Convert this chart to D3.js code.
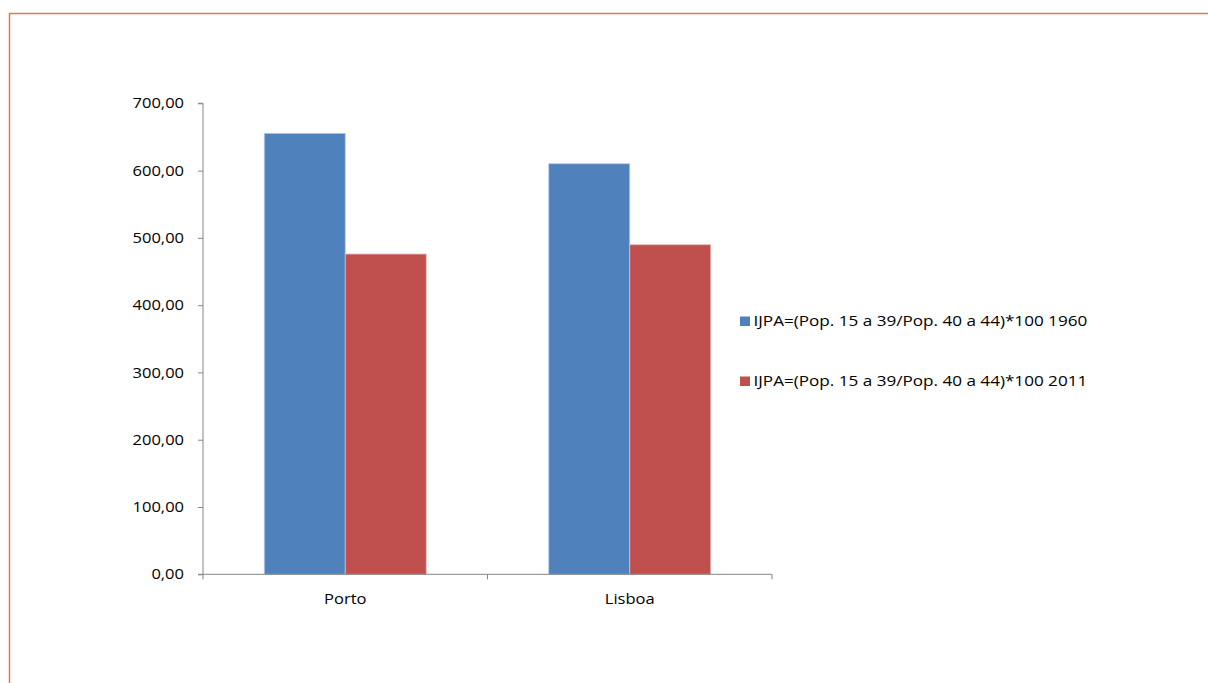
<!DOCTYPE html>
<html><head><meta charset="utf-8">
<script src="https://cdn.jsdelivr.net/npm/d3@7"></script>
<style>body{margin:0;background:#fff;} text{font-family:"Open Sans","Liberation Sans",sans-serif;}</style>
</head><body>
<script>
const categories = ["Porto", "Lisboa"];
const seriesNames = ["IJPA=(Pop. 15 a 39/Pop. 40 a 44)*100 1960", "IJPA=(Pop. 15 a 39/Pop. 40 a 44)*100 2011"];
const values1960 = [655.4, 610.2];
const values2011 = [476.0, 489.8];
const yTicks = [0, 100, 200, 300, 400, 500, 600, 700];
const colors = ["#4F81BD", "#C0504D"];

const W = 1208, H = 683;
const FS = 14.5, SX = 1.14, SXL = 1.18;
const svg = d3.select("body").append("svg").attr("width", W).attr("height", H);
svg.append("rect").attr("x", 9.5).attr("y", 13.5).attr("width", W + 20).attr("height", H + 20)
  .attr("fill", "#fff").attr("stroke", "#E07B4F").attr("stroke-width", 1.5);

const x0 = 203, x1 = 772, yTop = 103.3, yBot = 574.3;
const x = d3.scaleBand().domain(categories).range([x0, x1]);
const y = d3.scaleLinear().domain([0, 700]).range([yBot, yTop]);
const barW = 81;
const fmt = d => d3.format(".2f")(d).replace(".", ",");

const series = [values1960, values2011];
series.forEach((vals, si) => {
  svg.append("g").selectAll("rect").data(categories).join("rect")
    .attr("x", (c) => x(c) + x.bandwidth() / 2 - barW + si * barW)
    .attr("y", (c, i) => y(vals[i]))
    .attr("width", barW)
    .attr("height", (c, i) => yBot - y(vals[i]))
    .attr("fill", colors[si])
    .attr("stroke", si === 0 ? "#B9CDE5" : "#E6B9B8").attr("stroke-width", 0.8);
});

const axisColor = "#868686";
const yAxis = svg.append("g").attr("transform", `translate(${x0},0)`)
  .call(d3.axisLeft(y).tickValues(yTicks).tickFormat(fmt).tickSize(5).tickPadding(12));
yAxis.select(".domain").attr("stroke", axisColor).attr("d", `M-5,${yTop}H0V${yBot}H-5`);
yAxis.selectAll(".tick line").attr("stroke", axisColor);
yAxis.selectAll("text").attr("font-size", FS).attr("fill", "#000")
  .attr("font-family", "'Open Sans','Liberation Sans',sans-serif")
  .attr("x", -19 / SX).attr("transform", `scale(${SX},1)`);

const xAxis = svg.append("g").attr("transform", `translate(0,${yBot})`);
xAxis.append("line").attr("x1", x0).attr("x2", x1).attr("stroke", axisColor);
xAxis.selectAll("line.t").data([x0, x0 + x.bandwidth(), x1]).join("line").attr("class", "t")
  .attr("x1", d => d).attr("x2", d => d).attr("y1", 0).attr("y2", 5).attr("stroke", axisColor);
xAxis.selectAll("text").data(categories).join("text")
  .attr("transform", c => `translate(${x(c) + x.bandwidth() / 2},30) scale(${SX},1)`)
  .attr("text-anchor", "middle")
  .attr("font-size", FS).attr("fill", "#000").text(c => c);

const legend = svg.append("g");
seriesNames.forEach((n, i) => {
  const ly = 321 + i * 60;
  legend.append("rect").attr("x", 740).attr("y", ly - 4.5).attr("width", 10).attr("height", 9.5).attr("fill", colors[i]);
  legend.append("text").attr("transform", `translate(753.5,${ly + 5}) scale(${SXL},1)`)
    .attr("font-size", FS).attr("fill", "#000").text(n);
});
</script>
</body></html>
